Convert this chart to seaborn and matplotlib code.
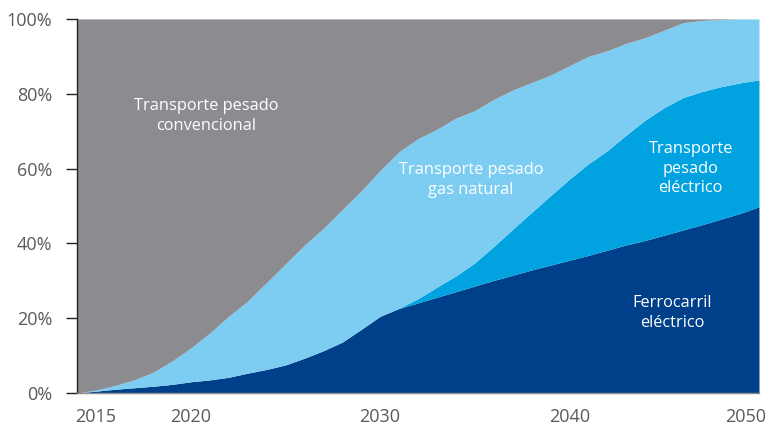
import matplotlib.pyplot as plt
import matplotlib.transforms as mtransforms
import seaborn as sns

# Años del escenario
years = list(range(2014, 2051))

# Participación (%) de cada modo en el transporte de mercancías
ferrocarril = [0, 0.5, 1.0, 1.4, 1.8, 2.3, 3.0, 3.5, 4.2, 5.3,
               6.3, 7.5, 9.3, 11.3, 13.6, 17.0, 20.5, 22.6, 24.1, 25.6,
               27.1, 28.6, 30.1, 31.5, 32.9, 34.2, 35.5, 36.8, 38.2, 39.6,
               40.8, 42.2, 43.6, 45.0, 46.5, 48.0, 49.8]
electrico = [0, 0, 0, 0, 0, 0, 0, 0, 0, 0,
             0, 0, 0, 0, 0, 0, 0, 0.1, 1.1, 2.7,
             4.2, 6.2, 9.1, 12.3, 15.4, 18.6, 21.7, 24.5, 26.6, 29.4,
             32.2, 34.1, 35.4, 35.6, 35.4, 34.9, 33.9]
gas_natural = [0, 0.3, 1.0, 2.1, 3.7, 6.2, 9.0, 12.5, 16.3, 19.2,
               23.2, 27.0, 30.2, 32.7, 35.4, 37.0, 39.0, 41.8, 42.8, 42.2,
               42.2, 40.7, 39.3, 37.2, 34.7, 32.2, 30.3, 28.7, 26.7, 24.5,
               22.0, 20.7, 20.0, 19.0, 17.9, 17.1, 16.3]
convencional = [100 - f - e - g for f, e, g in zip(ferrocarril, electrico, gas_natural)]

colores = ["#00408a", "#00a3e0", "#7dcdf2", "#8c8b90"]
x_ticks = [2015, 2020, 2030, 2040, 2050]
y_ticks = [0, 20, 40, 60, 80, 100]

sns.set_theme(style="white")
plt.rcParams["font.family"] = ["Open Sans", "DejaVu Sans"]

fig = plt.figure(figsize=(7.7, 4.3), dpi=100)
ax = fig.add_axes([0.1, 0.086, 0.8857, 0.870])

ax.stackplot(years, ferrocarril, electrico, gas_natural, convencional,
             colors=colores, linewidth=0)

ax.set_xlim(2014, 2050)
ax.set_ylim(0, 100)
ax.set_xticks(x_ticks)
ax.set_xticklabels([str(y) for y in x_ticks])
ax.set_yticks(y_ticks)
ax.set_yticklabels([f"{v}%" for v in y_ticks])
ax.tick_params(axis="x", length=0, pad=11, labelsize=13, labelcolor="#5a5a5a")
ax.tick_params(axis="y", length=8, width=1, color="#222222", direction="out",
               pad=10, labelsize=13, labelcolor="#5a5a5a", left=True)

# el último año se alinea a la derecha para no salirse de la figura
last = ax.get_xticklabels()[-1]
last.set_horizontalalignment("right")
last.set_transform(last.get_transform() + mtransforms.ScaledTranslation(0.07, 0, fig.dpi_scale_trans))

for side in ["top", "right"]:
    ax.spines[side].set_visible(False)
ax.spines["left"].set_color("#222222")
ax.spines["left"].set_linewidth(1)
ax.spines["bottom"].set_color("#8c8b90")
ax.spines["bottom"].set_linewidth(1)

etiqueta = dict(color="white", fontsize=11.8, ha="center", va="center", linespacing=1.3)
ax.text(2020.8, 74, "Transporte pesado\nconvencional", **etiqueta)
ax.text(2034.8, 57, "Transporte pesado\ngas natural", **etiqueta)
ax.text(2046.4, 60, "Transporte\npesado\neléctrico", **etiqueta)
ax.text(2045.4, 21.4, "Ferrocarril\neléctrico", **etiqueta)

fig.savefig("out.png", dpi=100)
